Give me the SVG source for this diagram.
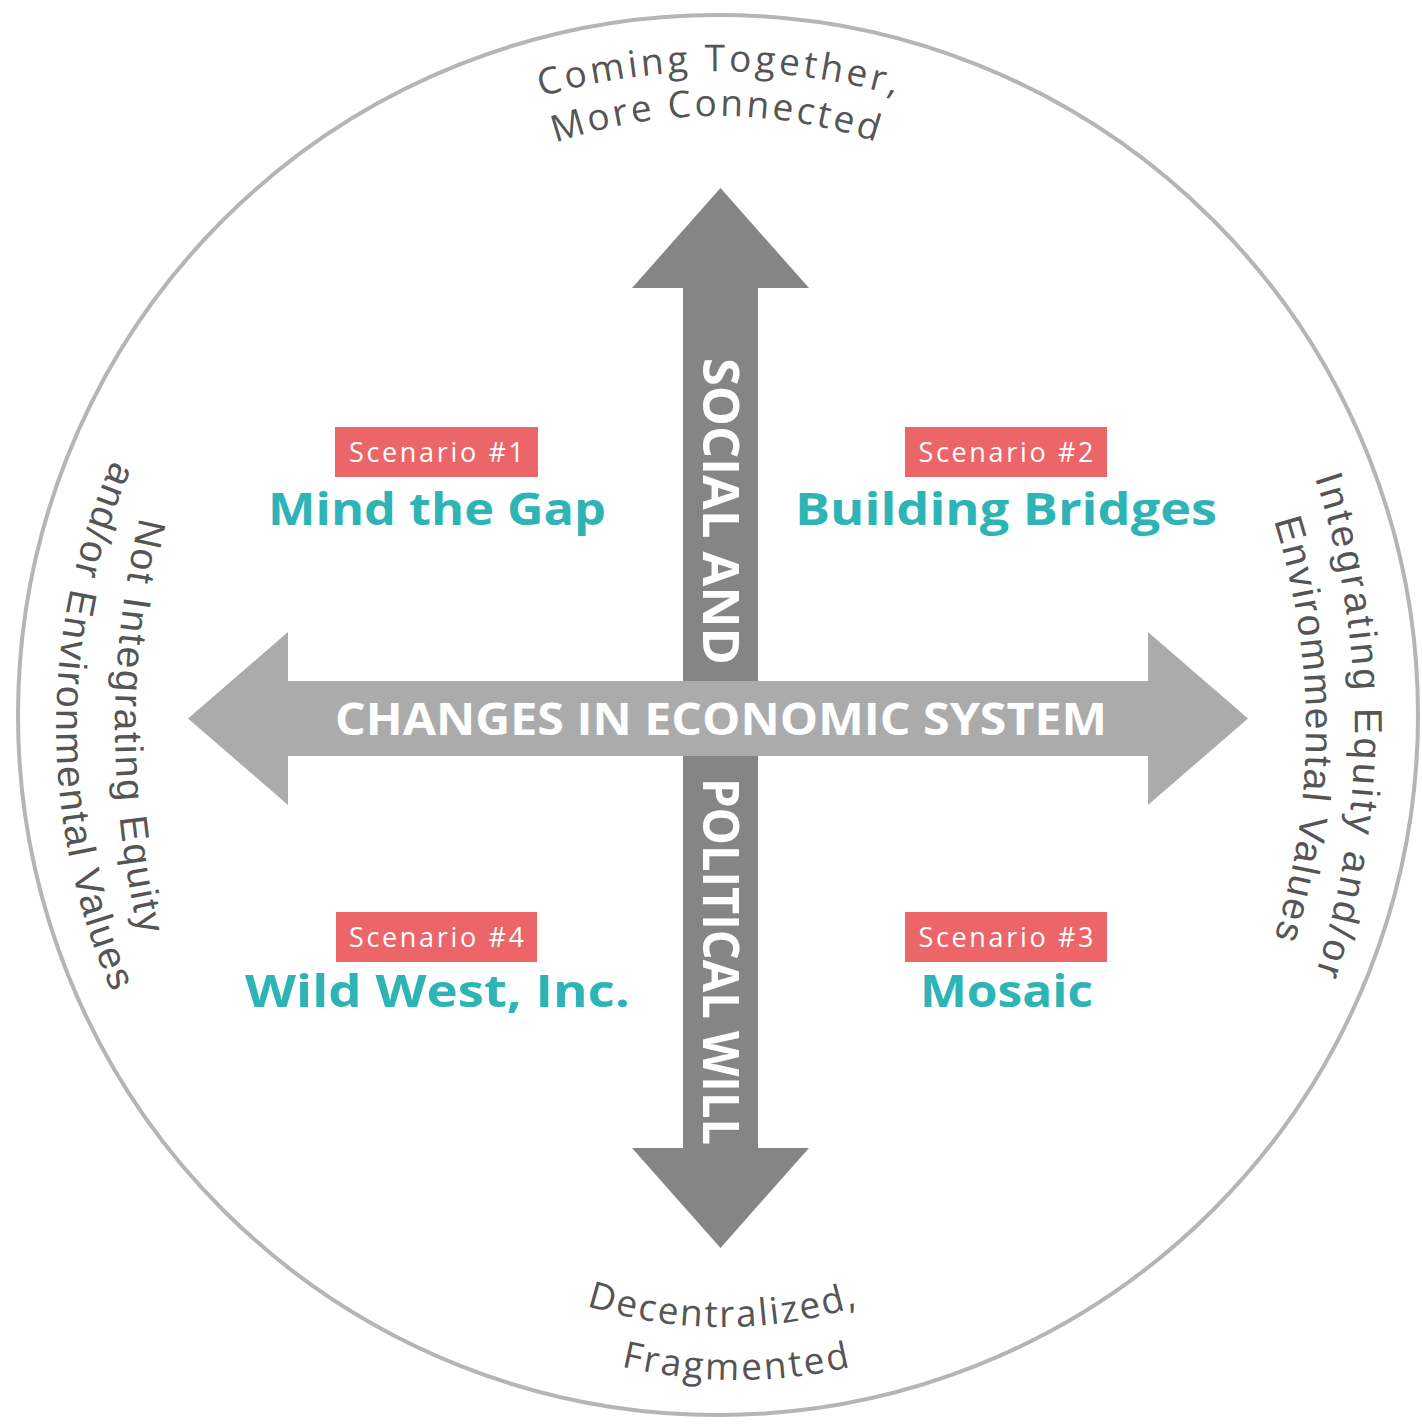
<svg xmlns="http://www.w3.org/2000/svg" width="1422" height="1424" viewBox="0 0 1422 1424">
<style>
.ring{fill:#ffffff;stroke:#b5b5b5;stroke-width:4}
.vert{fill:#858585}
.horz{fill:#ababab}
.axis{font-family:"Open Sans","Liberation Sans",sans-serif;font-weight:700;fill:#ffffff}
.tag{fill:#ec6569}
.tagtxt{font-family:"Open Sans","Liberation Sans",sans-serif;font-size:27px;fill:#ffffff;text-anchor:middle}
.title{font-family:"Open Sans","Liberation Sans",sans-serif;font-size:44px;font-weight:700;fill:#2fb4b5;text-anchor:middle}
.arc{font-family:"Open Sans","Liberation Sans",sans-serif;font-size:37px;fill:#555555}
.side{font-family:"Liberation Sans",Arial,sans-serif;font-size:39px;fill:#555555}
</style>
<defs>
<path id="pTop1" d="M 73 718 A 647 647 0 0 1 1367 718"/>
<path id="pTop2" d="M 217 616 A 500 500 0 0 1 1217 616"/>
<path id="pBot1" d="M 273 877 A 450 450 0 0 0 1173 877"/>
<path id="pBot2" d="M 237 880 A 500 500 0 0 0 1237 880"/>
<path id="pL1" d="M 1015 -173 A 900 900 0 0 0 1015 1627"/>
<path id="pL2" d="M 716 67 A 660 660 0 0 0 716 1387"/>
<path id="pR1" d="M 555 -73 A 800 800 0 0 1 555 1527"/>
<path id="pR2" d="M 606 30 A 700 700 0 0 1 606 1430"/>
</defs>
<g id="frame">
<circle class="ring" cx="718" cy="715" r="700"/>
</g>
<g id="connectors">
<polygon id="axis-social" class="vert" points="720.5,188 809,288 758,288 758,1148 809,1148 720.5,1248 632,1148 683,1148 683,288 632,288"/>
<polygon id="axis-economic" class="horz" points="188,718.5 288,632 288,681 1148,681 1148,632 1248,718.5 1148,805 1148,756 288,756 288,805"/>
</g>
<g id="axis-labels">
<text class="axis" x="721" y="735" font-size="44" text-anchor="middle" textLength="772" lengthAdjust="spacingAndGlyphs">CHANGES IN ECONOMIC SYSTEM</text>
<text class="axis" font-size="50" text-anchor="middle" textLength="307" lengthAdjust="spacingAndGlyphs" transform="translate(703,511.5) rotate(90)">SOCIAL AND</text>
<text class="axis" font-size="50" text-anchor="middle" textLength="367" lengthAdjust="spacingAndGlyphs" transform="translate(703,961.5) rotate(90)">POLITICAL WILL</text>
</g>
<g id="scenario-1">
<rect class="tag" x="335" y="427" width="203" height="50"/>
<text class="tagtxt" x="436.5" y="462" textLength="175" lengthAdjust="spacing">Scenario #1</text>
<text class="title" x="437" y="525" textLength="338" lengthAdjust="spacingAndGlyphs">Mind the Gap</text>
</g>
<g id="scenario-2">
<rect class="tag" x="905" y="427" width="202" height="50"/>
<text class="tagtxt" x="1006" y="462" textLength="175" lengthAdjust="spacing">Scenario #2</text>
<text class="title" x="1006" y="525" textLength="422" lengthAdjust="spacingAndGlyphs">Building Bridges</text>
</g>
<g id="scenario-4">
<rect class="tag" x="336" y="912" width="201" height="50"/>
<text class="tagtxt" x="436.5" y="947" textLength="175" lengthAdjust="spacing">Scenario #4</text>
<text class="title" x="437.5" y="1007" textLength="385" lengthAdjust="spacingAndGlyphs">Wild West, Inc.</text>
</g>
<g id="scenario-3">
<rect class="tag" x="905" y="912" width="202" height="50"/>
<text class="tagtxt" x="1006" y="947" textLength="175" lengthAdjust="spacing">Scenario #3</text>
<text class="title" x="1006.5" y="1007" textLength="173" lengthAdjust="spacingAndGlyphs">Mosaic</text>
</g>
<g id="label-top">
<text class="arc" letter-spacing="3.5"><textPath href="#pTop1" startOffset="50%" text-anchor="middle">Coming Together,</textPath></text>
<text class="arc" letter-spacing="3"><textPath href="#pTop2" startOffset="50%" text-anchor="middle">More Connected</textPath></text>
</g>
<g id="label-bottom">
<text class="arc" letter-spacing="2.2"><textPath href="#pBot1" startOffset="50%" text-anchor="middle">Decentralized,</textPath></text>
<text class="arc" letter-spacing="2.5"><textPath href="#pBot2" startOffset="50%" text-anchor="middle">Fragmented</textPath></text>
</g>
<g id="label-left">
<text class="side" letter-spacing="2.2"><textPath href="#pL1" startOffset="50%" text-anchor="middle">Not Integrating Equity</textPath></text>
<text class="side" letter-spacing="1.9"><textPath href="#pL2" startOffset="50%" text-anchor="middle">and/or Environmental Values</textPath></text>
</g>
<g id="label-right">
<text class="side" letter-spacing="3.3"><textPath href="#pR1" startOffset="50%" text-anchor="middle">Integrating Equity and/or</textPath></text>
<text class="side" letter-spacing="1.9"><textPath href="#pR2" startOffset="50%" text-anchor="middle">Envirommental Values</textPath></text>
</g>
</svg>
